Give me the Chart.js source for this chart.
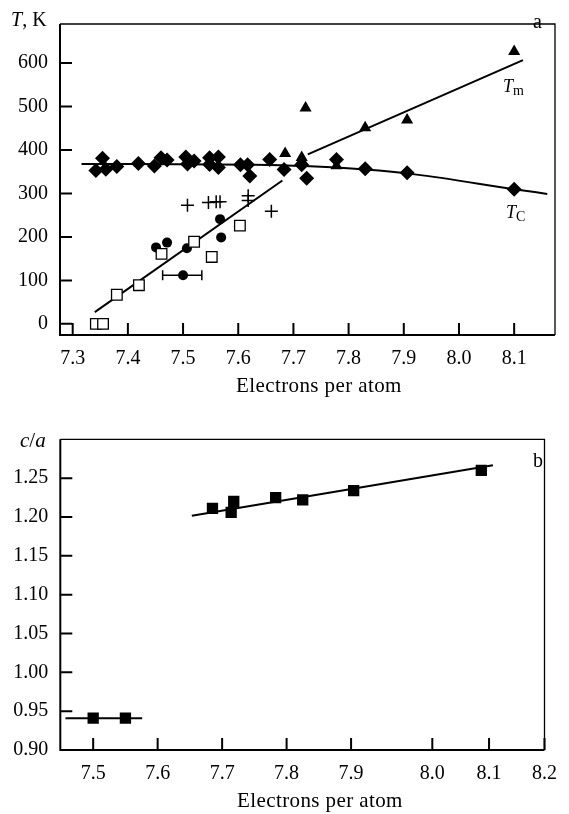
<!DOCTYPE html>
<html>
<head>
<meta charset="utf-8">
<script src="https://cdn.jsdelivr.net/npm/chart.js@4.4.1/dist/chart.umd.min.js"></script>
<style>
body { margin: 0; background: #fff; }
#wrap { position: relative; width: 569px; height: 814px; font-family: 'Liberation Serif', serif; color: #000; }
canvas { position: absolute; left: 0; }
.lbl { position: absolute; font-size: 20px; line-height: 1; white-space: nowrap; }
.sm { font-size: 18px; }
.ttl { font-size: 21px; letter-spacing: 0.4px; }
sub { font-size: 14px; vertical-align: -3px; font-style: normal; }
</style>
</head>
<body>
<div id="wrap">
  <canvas id="chartA" width="569" height="400" style="top:0"></canvas>
  <canvas id="chartB" width="569" height="414" style="top:400px"></canvas>

  <div class="lbl" style="left:11px;top:9px"><i>T</i>, K</div>
  <div class="lbl" style="left:533px;top:11px">a</div>
  <div class="lbl sm" style="left:503px;top:77px"><i>T</i><sub>m</sub></div>
  <div class="lbl sm" style="left:506px;top:203px"><i>T</i><sub>C</sub></div>
  <div class="lbl ttl" style="left:236px;top:375px">Electrons per atom</div>

  <div class="lbl" style="left:20px;top:430px;font-size:21px"><i>c</i>/<i>a</i></div>
  <div class="lbl" style="left:533px;top:450px">b</div>
  <div class="lbl ttl" style="left:237px;top:790px">Electrons per atom</div>
</div>
<script>
// ---- panel a ----
// T_C, diamonds
var tcX = [7.342, 7.354, 7.360, 7.380, 7.419, 7.448, 7.460, 7.471, 7.505, 7.508, 7.520, 7.548, 7.548,
           7.564, 7.564, 7.604, 7.617, 7.621, 7.657, 7.683, 7.715, 7.724, 7.778, 7.830, 7.906, 8.100];
var tcY = [353, 381, 356, 362, 369, 363, 382, 377, 384, 368, 375, 382, 367,
           384, 360, 366, 366, 340, 378, 355, 366, 335, 378, 357, 348, 310];
// T_m, triangles
var tmX = [7.685, 7.715, 7.715, 7.722, 7.778, 7.830, 7.906, 8.100];
var tmY = [392, 383, 376, 497, 364, 451, 469, 627];
// open squares
var sqX = [7.342, 7.355, 7.380, 7.420, 7.461, 7.520, 7.552, 7.603];
var sqY = [0, 0, 67, 89, 161, 189, 154, 226];
// filled circles
var dotX = [7.451, 7.471, 7.507, 7.500, 7.567, 7.569];
var dotY = [176, 187, 174, 112, 241, 199];
// crosses
var plusX = [7.508, 7.546, 7.560, 7.567, 7.618, 7.618, 7.660];
var plusY = [273, 279, 281, 281, 284, 295, 259];
// error bar on the circle at 7.50
var errX = [7.463, 7.534];
var errY = [112, 112];
// drawn fit lines
var fitTcX = [7.316, 7.63, 7.72, 7.83, 7.92, 8.10, 8.16];
var fitTcY = [368, 366, 363, 355, 344, 310, 299];
var fitTmX = [7.726, 8.116];
var fitTmY = [390, 607];
var fitLoX = [7.340, 7.680];
var fitLoY = [27, 330];
var aXTicks = [7.3, 7.4, 7.5, 7.6, 7.7, 7.8, 7.9, 8.0, 8.1];
var aYTicks = [0, 100, 200, 300, 400, 500, 600];

// ---- panel b ----
var caX = [7.500, 7.550, 7.685, 7.714, 7.718, 7.783, 7.825, 7.904, 8.102];
var caY = [0.941, 0.941, 1.211, 1.206, 1.220, 1.225, 1.222, 1.234, 1.260];
var fitB1X = [7.457, 7.576];
var fitB1Y = [0.941, 0.941];
var fitB2X = [7.653, 8.120];
var fitB2Y = [1.2017, 1.2665];
var bYTicks = [0.90, 0.95, 1.00, 1.05, 1.10, 1.15, 1.20, 1.25];
var bXLabels = ['7.5', '7.6', '7.7', '7.8', '7.9', '8.0', '8.1', '8.2'];
// in the original figure the 8.0 and 8.1 marks are off the even spacing
var bXTicks = [7.5, 7.6, 7.7, 7.8, 7.9, 8.026, 8.114, 8.2];

function pts(xs, ys) {
  return xs.map(function (x, i) { return { x: x, y: ys[i] }; });
}

var tickFont = { family: 'Liberation Serif', size: 20 };

// box around plot + inward tick marks
var frame = {
  id: 'frame',
  afterDatasetsDraw: function (chart) {
    var a = chart.chartArea, ctx = chart.ctx, sx = chart.scales.x, sy = chart.scales.y;
    ctx.save();
    ctx.strokeStyle = '#000';
    ctx.lineWidth = 1.3;
    ctx.beginPath();
    ctx.moveTo(a.left, a.top); ctx.lineTo(a.right, a.top); ctx.lineTo(a.right, a.bottom);
    ctx.stroke();
    ctx.lineWidth = 2;
    ctx.beginPath();
    ctx.moveTo(a.left, a.top); ctx.lineTo(a.left, a.bottom); ctx.lineTo(a.right, a.bottom);
    sx.ticks.forEach(function (t) {
      var p = sx.getPixelForValue(t.value);
      ctx.moveTo(p, a.bottom); ctx.lineTo(p, a.bottom - 12);
    });
    sy.ticks.forEach(function (t) {
      var p = sy.getPixelForValue(t.value);
      ctx.moveTo(a.left, p); ctx.lineTo(a.left + 12, p);
    });
    ctx.stroke();
    ctx.restore();
  }
};

function xAxis(min, max, tickVals, fmt, h) {
  return {
    type: 'linear', min: min, max: max,
    grid: { display: false, drawTicks: false }, border: { display: false },
    afterBuildTicks: function (s) { s.ticks = tickVals.map(function (v) { return { value: v }; }); },
    afterFit: function (s) { s.height = h; },
    ticks: { font: tickFont, color: '#000', padding: 12, autoSkip: false, maxRotation: 0, callback: fmt }
  };
}
function yAxis(min, max, tickVals, fmt, w) {
  return {
    type: 'linear', min: min, max: max,
    grid: { display: false, drawTicks: false }, border: { display: false },
    afterBuildTicks: function (s) { s.ticks = tickVals.map(function (v) { return { value: v }; }); },
    afterFit: function (s) { s.width = w; },
    ticks: { font: tickFont, color: '#000', padding: 12, autoSkip: false, callback: fmt }
  };
}

function fitLine(xs, ys, smooth) {
  return { data: pts(xs, ys), showLine: true, pointRadius: 0, borderColor: '#000', borderWidth: 2,
           cubicInterpolationMode: smooth ? 'monotone' : 'default' };
}

var common = {
  responsive: false, animation: false, devicePixelRatio: 1,
  plugins: { legend: { display: false }, tooltip: { enabled: false } }
};

new Chart(document.getElementById('chartA'), {
  type: 'scatter',
  data: {
    datasets: [
      { data: pts(tcX, tcY), pointStyle: 'rectRot', pointRadius: 7.5, backgroundColor: '#000', borderWidth: 0 },
      { data: pts(tmX, tmY), pointStyle: 'triangle', pointRadius: 7, backgroundColor: '#000', borderWidth: 0 },
      { data: pts(sqX, sqY), pointStyle: 'rect', pointRadius: 7.5, backgroundColor: '#fff', borderColor: '#000', borderWidth: 1.3 },
      { data: pts(dotX, dotY), pointStyle: 'circle', pointRadius: 5, backgroundColor: '#000', borderWidth: 0 },
      { data: pts(plusX, plusY), pointStyle: 'cross', pointRadius: 6.5, borderColor: '#000', borderWidth: 1.5 },
      { data: pts(errX, errY), showLine: true, borderColor: '#000', borderWidth: 1.5,
        pointStyle: 'line', pointRotation: 90, pointRadius: 5, pointBorderColor: '#000', pointBorderWidth: 1.5 },
      fitLine(fitTcX, fitTcY, true),
      fitLine(fitTmX, fitTmY, false),
      fitLine(fitLoX, fitLoY, false)
    ]
  },
  options: Object.assign({}, common, {
    layout: { padding: { left: 0, right: 14, top: 8, bottom: 0 } },
    scales: {
      x: xAxis(7.277, 8.174, aXTicks, function (v) { return v.toFixed(1); }, 65),
      y: yAxis(-25.6, 690, aYTicks, function (v) { return String(v); }, 60)
    }
  }),
  plugins: [frame]
});

new Chart(document.getElementById('chartB'), {
  type: 'scatter',
  data: {
    datasets: [
      { data: pts(caX, caY), pointStyle: 'rect', pointRadius: 8, backgroundColor: '#000', borderWidth: 0 },
      fitLine(fitB1X, fitB1Y, false),
      fitLine(fitB2X, fitB2Y, false)
    ]
  },
  options: Object.assign({}, common, {
    layout: { padding: { left: 0, right: 13.3, top: 39.3, bottom: 0 } },
    scales: {
      x: xAxis(7.449, 8.2, bXTicks, function (v, i) { return bXLabels[i]; }, 64),
      y: yAxis(0.9, 1.3, bYTicks, function (v) { return v.toFixed(2); }, 60.3)
    }
  }),
  plugins: [frame]
});
</script>
</body>
</html>
